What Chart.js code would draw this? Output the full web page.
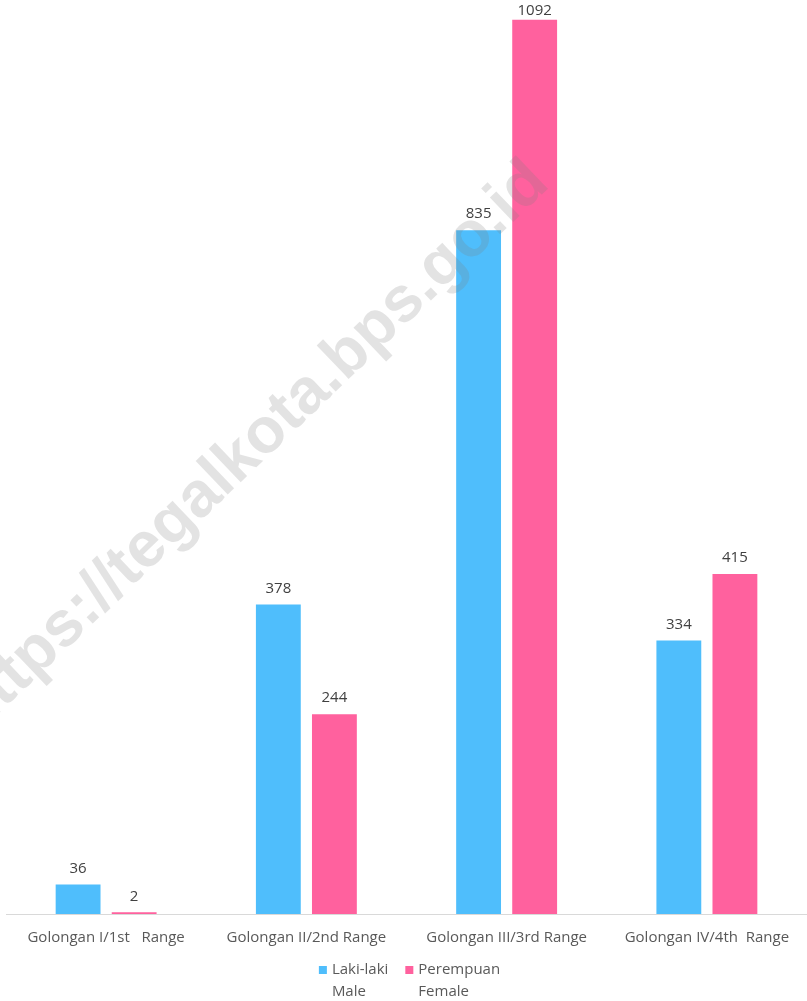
<!DOCTYPE html>
<html>
<head>
<meta charset="utf-8">
<script src="https://cdn.jsdelivr.net/npm/chart.js@4/dist/chart.umd.min.js"></script>
<style>
  html, body { margin: 0; padding: 0; background: #fff; }
  #wrap { width: 807px; height: 1001px; }
</style>
</head>
<body>
<div id="wrap"><canvas id="golongan-chart"></canvas></div>
<script>
const categories = ['Golongan I/1st   Range', 'Golongan II/2nd Range', 'Golongan III/3rd Range', 'Golongan IV/4th  Range'];
const maleValues = [36, 378, 835, 334];
const femaleValues = [2, 244, 1092, 415];
const seriesLabels = [['Laki-laki', 'Male'], ['Perempuan', 'Female']];
const watermark = 'https://tegalkota.bps.go.id';

const FONT = '"Open Sans", "Liberation Sans", sans-serif';

// value labels above each bar
const barLabels = {
    id: 'barLabels',
    afterDatasetsDraw(chart) {
        const ctx = chart.ctx;
        ctx.save();
        ctx.font = '15px ' + FONT;
        ctx.fillStyle = '#404040';
        ctx.textAlign = 'center';
        ctx.textBaseline = 'middle';
        chart.data.datasets.forEach((ds, i) => {
            chart.getDatasetMeta(i).data.forEach((bar, j) => {
                const y = Math.max(bar.y - 16, 11);
                ctx.fillText(ds.data[j], bar.x, y);
            });
        });
        ctx.restore();
    }
};

// two-line legend under the axis
const twoLineLegend = {
    id: 'twoLineLegend',
    afterDraw(chart) {
        const ctx = chart.ctx;
        ctx.save();
        ctx.font = '15px ' + FONT;
        ctx.textBaseline = 'middle';
        const box = 8, gap = 5, itemGap = 17;
        const widths = chart.data.datasets.map(ds =>
            box + gap + Math.max(...ds.label.map(t => ctx.measureText(t).width)));
        const total = widths.reduce((a, b) => a + b, 0) + itemGap * (widths.length - 1);
        let x = (chart.chartArea.left + chart.chartArea.right) / 2 - total / 2 + 3;
        const y0 = 970;
        chart.data.datasets.forEach((ds, i) => {
            ctx.fillStyle = ds.backgroundColor;
            ctx.fillRect(x, y0 - box / 2, box, box);
            ctx.fillStyle = '#595959';
            ds.label.forEach((t, k) => ctx.fillText(t, x + box + gap, y0 + k * 22));
            x += widths[i] + itemGap;
        });
        ctx.restore();
    }
};

// diagonal watermark
const watermarkText = {
    id: 'watermarkText',
    afterDraw(chart) {
        const ctx = chart.ctx;
        ctx.save();
        ctx.translate(251, 448);
        ctx.rotate(-43.7 * Math.PI / 180);
        ctx.font = 'bold 64px "Liberation Sans", Arial, sans-serif';
        ctx.fillStyle = 'rgba(128,128,128,0.22)';
        ctx.textAlign = 'center';
        ctx.textBaseline = 'middle';
        ctx.fillText(watermark, 0, 0);
        ctx.restore();
    }
};

new Chart(document.getElementById('golongan-chart'), {
    type: 'bar',
    data: {
        labels: categories,
        datasets: [
            { label: seriesLabels[0], data: maleValues, backgroundColor: '#4FBEFC' },
            { label: seriesLabels[1], data: femaleValues, backgroundColor: '#FF619E' }
        ]
    },
    options: {
        responsive: true,
        maintainAspectRatio: false,
        animation: false,
        layout: { padding: { left: 6, right: 0, top: 0, bottom: 0 } },
        categoryPercentage: 0.56,
        barPercentage: 0.8,
        plugins: {
            legend: { display: false },
            tooltip: { enabled: false }
        },
        scales: {
            x: {
                grid: { display: false, drawTicks: false },
                border: { color: '#D9D9D9', width: 1 },
                ticks: { color: '#595959', font: { family: FONT, size: 15 }, padding: 15, maxRotation: 0, autoSkip: false },
                afterFit(scale) { scale.height = 87; }
            },
            y: { display: false, min: 0, max: 1116 }
        }
    },
    plugins: [barLabels, twoLineLegend, watermarkText]
});
</script>
</body>
</html>
